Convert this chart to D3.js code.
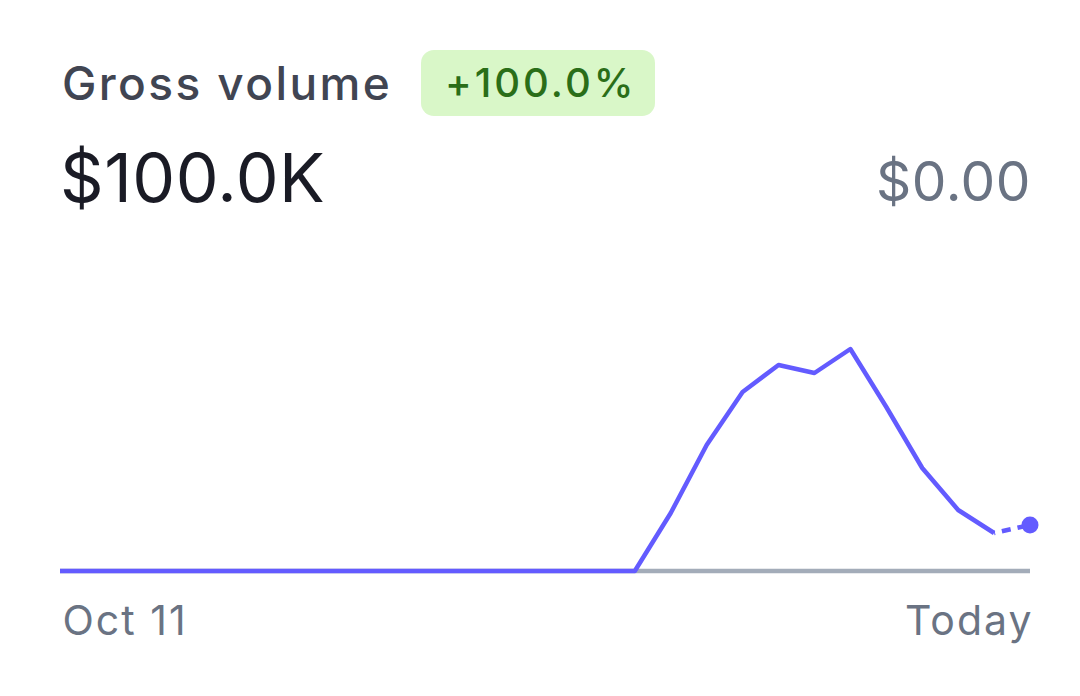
<!DOCTYPE html>
<html>
<head>
<meta charset="utf-8">
<script src="https://cdn.jsdelivr.net/npm/d3@7"></script>
<style>
  html, body { margin: 0; padding: 0; background: #fff; }
  svg { display: block; font-family: Inter, "Noto Sans", sans-serif; }
</style>
</head>
<body>
<svg id="chart" width="1080" height="696"></svg>
<script>
// header texts
const title = "Gross volume";
const change = "+100.0%";
const total = "$100.0K";
const previous = "$0.00";

// one point per day, Oct 11 .. today (Nov 7)
const days = d3.timeDay.range(new Date(2023, 9, 11), new Date(2023, 10, 8));
const volume = [0, 0, 0, 0, 0, 0, 0, 0, 0, 0, 0, 0, 0, 0, 0, 0, 0,
                580, 1260, 1790, 2060, 1980, 2220, 1640, 1030, 610, 380, 460];
const prevVolume = days.map(() => 0);   // previous period was $0
const tickLabels = ["Oct 11", "Today"];

const svg = d3.select("#chart");

// header
svg.append("text")
  .attr("x", 62).attr("y", 100)
  .attr("font-size", 46).attr("font-weight", 500)
  .attr("letter-spacing", 2.4)
  .attr("fill", "#414552")
  .text(title);

const badge = svg.append("g");
badge.append("rect")
  .attr("x", 421).attr("y", 50).attr("width", 234).attr("height", 66)
  .attr("rx", 13).attr("fill", "#d9f7c8");
badge.append("text")
  .attr("x", 445).attr("y", 97)
  .attr("font-size", 40).attr("font-weight", 500)
  .attr("letter-spacing", 3)
  .attr("fill", "#2a6e18")
  .text(change);

svg.append("text")
  .attr("x", 60).attr("y", 202)
  .attr("font-size", 68)
  .attr("letter-spacing", 0.5)
  .attr("fill", "#1a1b25")
  .text(total);

svg.append("text")
  .attr("x", 1031).attr("y", 201).attr("text-anchor", "end")
  .attr("font-size", 55)
  .attr("letter-spacing", 0.5)
  .attr("fill", "#6a7383")
  .text(previous);

// scales
const x = d3.scaleTime()
  .domain(d3.extent(days))
  .range([60, 1030]);
const y = d3.scaleLinear()
  .domain([0, 2500])
  .range([571, 321]);

const line = d3.line()
  .x((d, i) => x(days[i]))
  .y(d => y(d));

// previous period (grey)
svg.append("path")
  .datum(prevVolume)
  .attr("fill", "none")
  .attr("stroke", "#a3acb9")
  .attr("stroke-width", 4.5)
  .attr("d", line);

// current period, solid up to yesterday
const n = volume.length;
svg.append("path")
  .datum(volume.slice(0, n - 1))
  .attr("fill", "none")
  .attr("stroke", "#635bff")
  .attr("stroke-width", 4.5)
  .attr("stroke-linejoin", "round")
  .attr("d", line);

// today is partial -> dashed
svg.append("path")
  .datum(volume.slice(n - 2))
  .attr("fill", "none")
  .attr("stroke", "#635bff")
  .attr("stroke-width", 4.5)
  .attr("stroke-dasharray", "9 7")
  .attr("stroke-dashoffset", -8)
  .attr("d", d3.line().x((d, i) => x(days[n - 2 + i])).y(d => y(d)));

svg.append("circle")
  .attr("cx", x(days[n - 1]))
  .attr("cy", y(volume[n - 1]))
  .attr("r", 8.5)
  .attr("fill", "#635bff");

// x axis: just first and last labels
const axis = d3.axisBottom(x)
  .tickValues([days[0], days[n - 1]])
  .tickSize(0)
  .tickFormat((d, i) => tickLabels[i]);

const gx = svg.append("g")
  .attr("transform", "translate(0,635)")
  .call(axis);
gx.select(".domain").remove();
gx.selectAll("text")
  .attr("font-size", 41)
  .attr("font-family", "Inter, 'Noto Sans', sans-serif")
  .attr("letter-spacing", 2)
  .attr("fill", "#6a7383")
  .attr("y", 0)
  .attr("dy", 0)
  .attr("text-anchor", (d, i) => i === 0 ? "start" : "end")
  .attr("x", (d, i) => i === 0 ? 2 : 3);
</script>
</body>
</html>
